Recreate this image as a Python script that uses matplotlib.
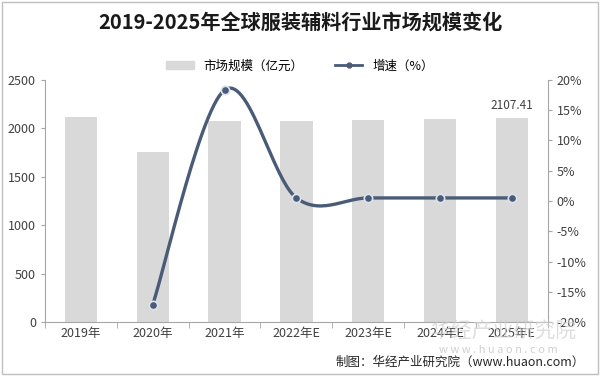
import numpy as np
import matplotlib
matplotlib.use('Agg')
import matplotlib.pyplot as plt
from matplotlib.lines import Line2D
from matplotlib.patches import Patch, Rectangle

plt.rcParams['font.family'] = ['Noto Sans CJK SC', 'DejaVu Sans']

# data
years = ['2019年', '2020年', '2021年', '2022年E', '2023年E', '2024年E', '2025年E']
market = [2118, 1756, 2077, 2077, 2087, 2097, 2107.41]
growth = [None, -17.1, 18.3, 0.5, 0.5, 0.5, 0.5]


def smooth(xs, ys, n=30):
    # Catmull-Rom style smoothing, like Excel's smoothed line
    px, py = [], []
    for i in range(len(xs) - 1):
        x0, y0 = (xs[i - 1], ys[i - 1]) if i > 0 else (xs[i], ys[i])
        x1, y1 = xs[i], ys[i]
        x2, y2 = xs[i + 1], ys[i + 1]
        x3, y3 = (xs[i + 2], ys[i + 2]) if i + 2 < len(xs) else (x2, y2)
        t = np.linspace(0, 1, n)
        c1x, c1y = x1 + (x2 - x0) / 6, y1 + (y2 - y0) / 6
        c2x, c2y = x2 - (x3 - x1) / 6, y2 - (y3 - y1) / 6
        bx = (1-t)**3*x1 + 3*(1-t)**2*t*c1x + 3*(1-t)*t**2*c2x + t**3*x2
        by = (1-t)**3*y1 + 3*(1-t)**2*t*c1y + 3*(1-t)*t**2*c2y + t**3*y2
        px.extend(bx); py.extend(by)
    return np.array(px), np.array(py)


fig = plt.figure(figsize=(6, 3.76), dpi=100)
ax = fig.add_axes([0.075, 0.143, 0.838, 0.645])
x = np.arange(len(years))
ax.bar(x, market, width=0.45, color='#d9d9d9', zorder=2)
ax.set_ylim(0, 2500)
ax.set_yticks(range(0, 2501, 500))
ax.set_xlim(-0.5, len(years) - 0.5)
ax.set_xticks(x)
ax.set_xticklabels(years, fontsize=9)
ax.text(x[-1], market[-1] + 60, '2107.41', ha='center', va='bottom', fontsize=8.5, color='#404040')

for s in ['top', 'right']:
    ax.spines[s].set_visible(False)
ax.spines['left'].set_color('#a6a6a6')
ax.spines['bottom'].set_color('#a6a6a6')
ax.tick_params(axis='y', labelsize=9, colors='#404040', length=3, color='#a6a6a6')
ax.tick_params(axis='x', labelsize=9, colors='#404040', length=0)
ax.set_xticks(np.arange(-0.5, len(years), 1), minor=True)
ax.tick_params(axis='x', which='minor', length=4, color='#a6a6a6')

ax2 = ax.twinx()
gx = [i for i, g in enumerate(growth) if g is not None]
gy = [g for g in growth if g is not None]
sx, sy = smooth(np.array(gx, float), np.array(gy, float))
ax2.plot(sx, sy, color='#4a5b78', lw=2.4, zorder=3)
ax2.plot(gx, gy, 'o', color='#4a5b78', ms=6, mec='#dde3ee', mew=1.2, zorder=4)
ax2.set_ylim(-20, 20)
ax2.set_yticks(range(-20, 21, 5))
ax2.set_yticklabels([f'{v}%' for v in range(-20, 21, 5)])
for s in ['top', 'left', 'bottom']:
    ax2.spines[s].set_visible(False)
ax2.spines['right'].set_color('#a6a6a6')
ax2.tick_params(axis='y', labelsize=9, colors='#404040', length=3, color='#a6a6a6')

fig.text(0.5, 0.94, '2019-2025年全球服装辅料行业市场规模变化', ha='center', va='center',
         fontsize=14.5, fontweight='bold', color='#1a1a1a')

handles = [Patch(color='#d9d9d9'),
           Line2D([0], [0], color='#4a5b78', lw=2, marker='o', ms=3.5)]
fig.legend(handles, ['市场规模（亿元）', '增速（%）'], loc='center', bbox_to_anchor=(0.5, 0.825),
           ncol=2, frameon=False, fontsize=9, handlelength=2.2, columnspacing=2.5)

# faint watermark
fig.text(0.96, 0.118, '华经产业研究院', ha='right', va='center', fontsize=15, color='#d0d0d0', alpha=0.7, zorder=0)
fig.text(0.93, 0.068, 'w w w . h u a o n . c o m', ha='right', va='center', fontsize=8, color='#d0d0d0', zorder=0)
fig.text(0.975, 0.037, '制图：华经产业研究院（www.huaon.com）', ha='right', va='center',
         fontsize=9, color='#262626')

fig.patches.append(Rectangle((0.003, 0.005), 0.994, 0.99, transform=fig.transFigure,
                             fill=False, edgecolor='#bfbfbf', lw=1))
fig.savefig('out.png', dpi=100)
